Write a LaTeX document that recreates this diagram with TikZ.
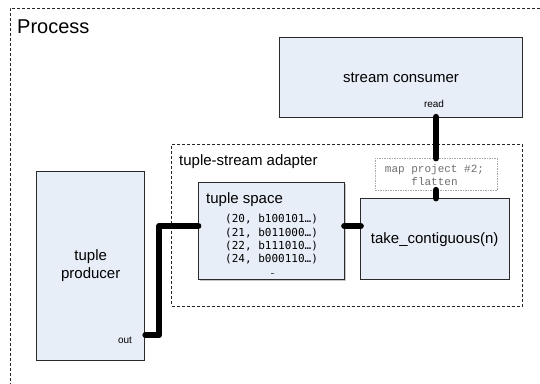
\documentclass[tikz,border=0pt]{standalone}
\usepackage{fontspec}
\setmainfont{Liberation Sans}
\newfontfamily\dvmono{DejaVu Sans Mono}
\newfontfamily\lmono{Liberation Mono}
\usetikzlibrary{calc}
\definecolor{boxfill}{HTML}{E8EEF7}
\definecolor{boxline}{HTML}{2A2A2A}
\definecolor{maptext}{HTML}{707070}
\definecolor{mapline}{HTML}{A8A8A8}
\tikzset{
  blk/.style={draw=boxline, fill=boxfill, line width=0.9pt, inner sep=0pt, outer sep=0pt},
  region/.style={draw=black!85, dash pattern=on 3pt off 2pt, line width=0.6pt, inner sep=0pt, outer sep=0pt},
  mapbox/.style={draw=mapline, dash pattern=on 1.5pt off 1pt, line width=0.7pt, inner sep=0pt, outer sep=0pt},
  wire/.style={line width=6.3pt, line cap=round, line join=round},
  lbl/.style={font=\fontsize{15}{18}\selectfont, inner sep=0pt},
  small/.style={font=\fontsize{10}{12}\selectfont, inner sep=0pt},
  shade/.style={fill=gray!45},
}
\begin{document}
\begin{tikzpicture}[x=1pt,y=-1pt]
\useasboundingbox (0,0) rectangle (540,383);
\fill[white] (0,0) rectangle (540,383);
% outer process region
\coordinate (ptr) at (545,8);
\coordinate (ptl) at (10,8);
\coordinate (pbl) at (10,390);
\draw[region] (ptr) -- (ptl) -- (pbl);
\node[anchor=base west, font=\fontsize{20}{24}\selectfont, inner sep=0pt] (proc) at (17,33) {Process};

% adapter region
\node[region, minimum width=351pt, minimum height=161.3pt] (adp) at (347.2,225.35) {};
\node[lbl, anchor=west] (adplbl) at (179,162) {tuple-stream adapter};

% stream consumer
\node[blk, minimum width=243pt, minimum height=80pt] (sc) at (400.5,77) {};
\node[lbl] (sctxt) at (401,77.7) {stream consumer};
\node[small] (read) at (434,104) {read};

% tuple producer
\node[blk, minimum width=107.6pt, minimum height=188.3pt] (prod) at (90.5,265.85) {};
\node[lbl, align=center] (prodtxt) at (90.7,266) {tuple\\producer};
\node[small] (out) at (125,340) {out};

% tuple space
\fill[shade] (199.6,280.7) rectangle (345.7,183.5);
\node[blk, minimum width=146pt, minimum height=97pt] (ts) at (271.3,230.8) {};
\node[lbl, anchor=west] (tstxt) at (206,200) {tuple space};
\node[inner sep=0pt, anchor=west, align=left, font=\dvmono\fontsize{11}{13.3}\selectfont] (tslines) at (225,239.5)
  {(20, b100101…)\\(21, b011000…)\\(22, b111010…)\\(24, b000110…)};
\node[inner sep=0pt, font=\dvmono\fontsize{6}{7}\selectfont] (dots) at (272.7,274.5) {…};

% take contiguous
\fill[shade] (362,280.4) rectangle (510.4,199.5);
\node[blk, minimum width=148.3pt, minimum height=80.7pt] (take) at (434.85,238.65) {};
\node[lbl] (taketxt) at (434.7,240) {take\_contiguous(n)};

% map box
\node[mapbox, fill=white, minimum width=122pt, minimum height=31.7pt] (map) at (436,174.15) {};
\node[inner sep=0pt, align=center, text=maptext, font=\lmono\fontsize{11}{12.7}\selectfont] (maptxt) at (434.5,174.8) {map project \#2;\\flatten};

% connectors
\coordinate (outpt) at (145.5,335);
\draw[wire] (outpt) -- ++(13.8,0) |- ([yshift=4.8pt]ts.west);
\draw[wire] ([yshift=4.8pt]ts.east) -- ([yshift=4.8pt]ts.east -| take.west);
\draw[wire] (map.north) -- (map.north |- sc.south);
\draw[wire] (map.south) -- (map.south |- take.north);
\end{tikzpicture}
\end{document}
